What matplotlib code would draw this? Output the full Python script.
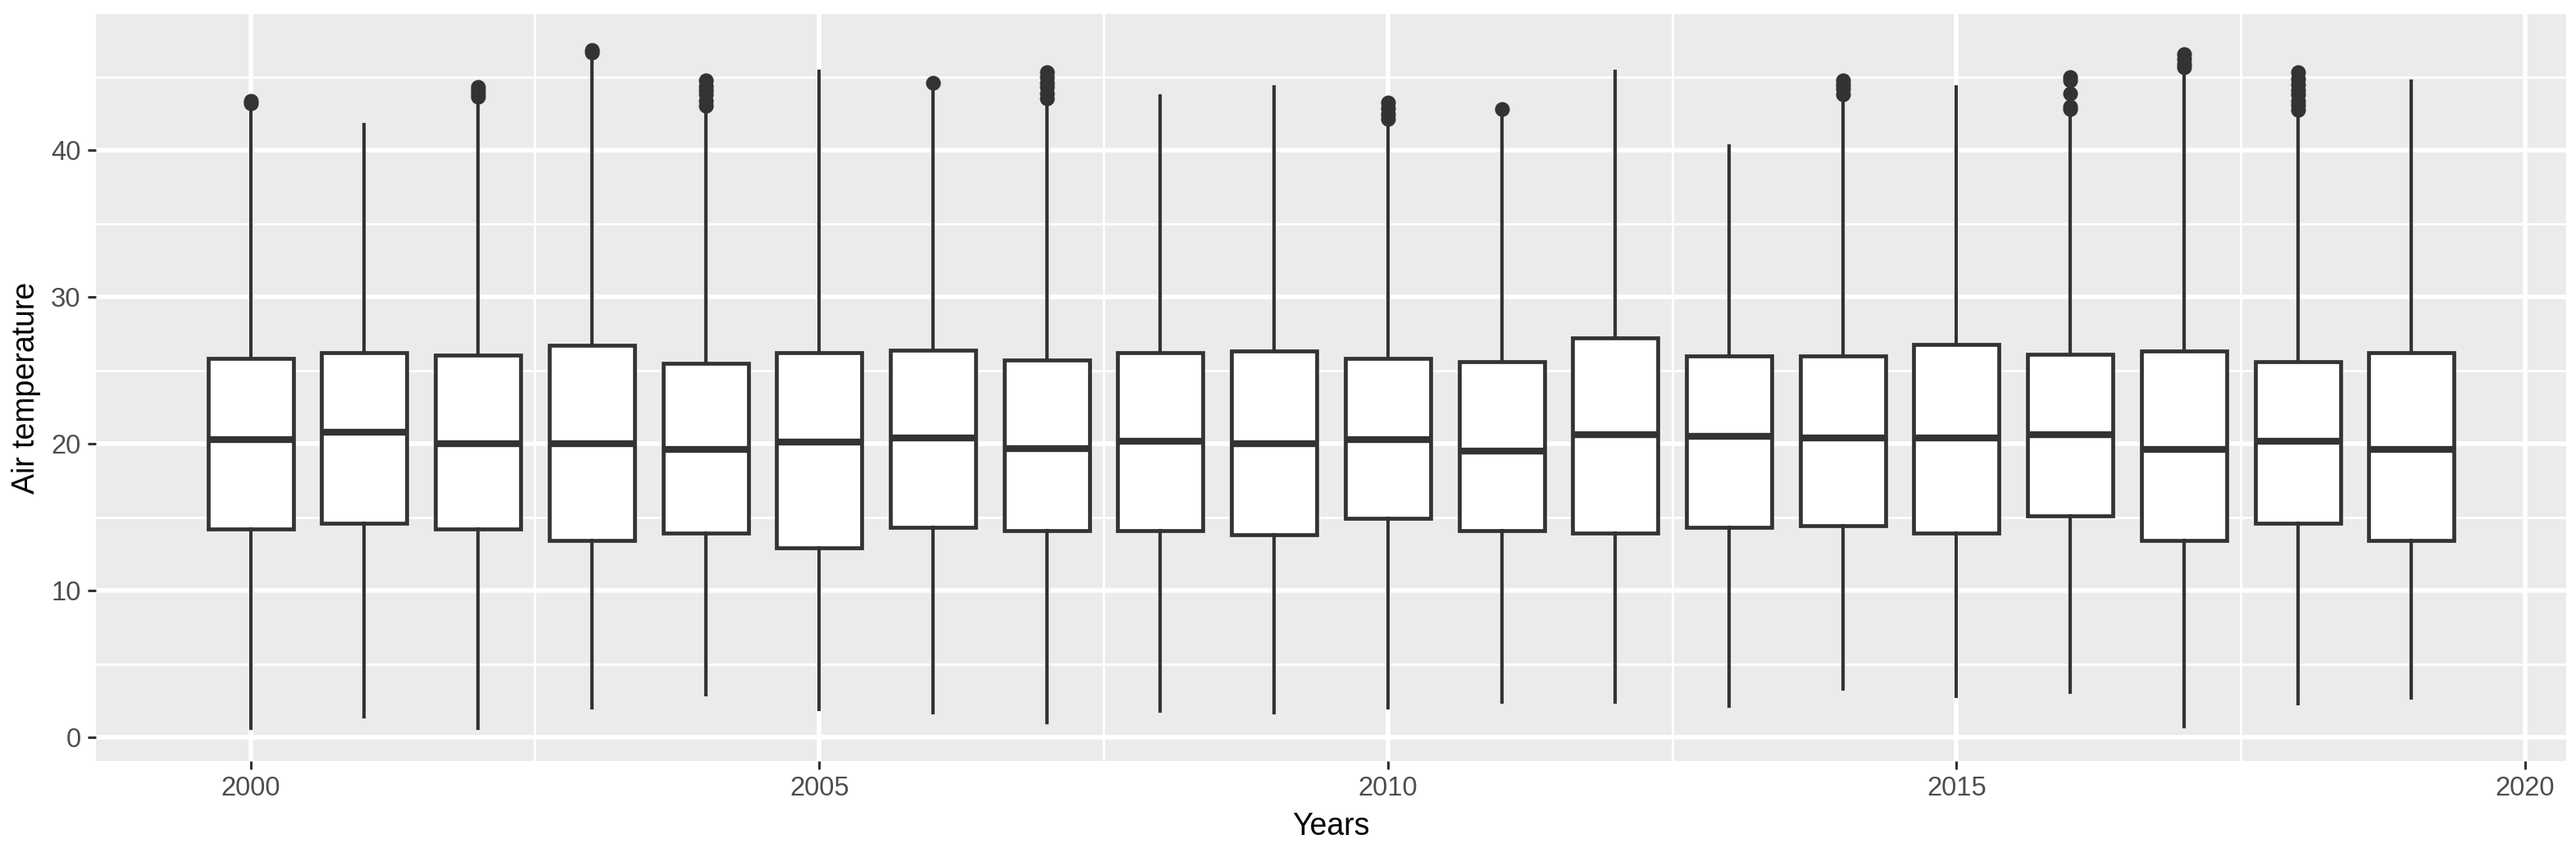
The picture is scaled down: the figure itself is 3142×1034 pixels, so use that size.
import matplotlib
matplotlib.use('Agg')
import matplotlib.pyplot as plt

# Air temperature per year
years = list(range(2000, 2020))
q1 = [14.2, 14.6, 14.2, 13.4, 13.9, 12.9, 14.3, 14.1, 14.1, 13.8,
      14.9, 14.1, 13.9, 14.3, 14.4, 13.9, 15.1, 13.4, 14.6, 13.4]
medians = [20.3, 20.8, 20.0, 20.0, 19.6, 20.1, 20.4, 19.7, 20.2, 20.0,
           20.3, 19.5, 20.6, 20.5, 20.4, 20.4, 20.6, 19.6, 20.2, 19.6]
q3 = [25.8, 26.2, 26.05, 26.7, 25.5, 26.2, 26.4, 25.7, 26.2, 26.3,
      25.8, 25.6, 27.2, 26.0, 26.0, 26.8, 26.1, 26.3, 25.6, 26.2]
whis_lo = [0.6, 1.4, 0.6, 2.0, 2.9, 1.9, 1.7, 1.0, 1.8, 1.7,
           2.0, 2.4, 2.4, 2.1, 3.3, 2.8, 3.1, 0.7, 2.3, 2.7]
whis_hi = [42.8, 41.75, 43.15, 46.2, 42.6, 45.4, 44.3, 43.1, 43.7, 44.3,
           41.7, 42.3, 45.4, 40.3, 43.4, 44.3, 42.3, 45.2, 42.3, 44.7]
outliers = [
    [43.2, 43.4],
    [],
    [43.65, 43.9, 44.1, 44.35],
    [46.65, 46.85],
    [43.05, 43.4, 43.8, 44.1, 44.4, 44.75],
    [],
    [44.6],
    [43.55, 43.9, 44.3, 44.6, 45.0, 45.35],
    [],
    [],
    [42.15, 42.5, 42.9, 43.25],
    [42.8],
    [],
    [],
    [43.85, 44.2, 44.5, 44.75],
    [],
    [42.8, 43.0, 43.9, 44.8, 45.0],
    [45.65, 45.9, 46.2, 46.55],
    [42.75, 43.1, 43.4, 43.8, 44.1, 44.5, 44.9, 45.35],
    [],
]

plt.rcParams['font.family'] = ['Liberation Sans', 'DejaVu Sans']

fig = plt.figure(figsize=(15.71, 5.17), dpi=200)
fig.set_facecolor('white')
ax = fig.add_axes([0.03724, 0.10251, 0.95894, 0.88105])
ax.set_facecolor('#EBEBEB')

# estadísticos para bxp
stats = []
for i in range(len(years)):
    stats.append(dict(q1=q1[i], med=medians[i], q3=q3[i],
                      whislo=whis_lo[i], whishi=whis_hi[i],
                      fliers=outliers[i]))

edge = '#333333'
ax.bxp(stats, positions=years, widths=0.75, patch_artist=True,
       showcaps=False, zorder=3,
       boxprops=dict(facecolor='white', edgecolor=edge, linewidth=1.7),
       whiskerprops=dict(color=edge, linewidth=1.5),
       medianprops=dict(color=edge, linewidth=3.0, solid_capstyle='butt'),
       flierprops=dict(marker='o', markerfacecolor=edge, markeredgecolor=edge,
                       markersize=5.5, linestyle='none'))

# ejes y rejilla estilo ggplot
ax.set_xlim(1998.64, 2020.36)
ax.set_ylim(-1.62, 49.3)
ax.set_xticks([2000, 2005, 2010, 2015, 2020])
ax.set_xticklabels(['2000', '2005', '2010', '2015', '2020'])
ax.set_xticks([2002.5, 2007.5, 2012.5, 2017.5], minor=True)
ax.set_yticks([0, 10, 20, 30, 40])
ax.set_yticks([5, 15, 25, 35, 45], minor=True)
ax.grid(which='major', color='white', linewidth=2.0, zorder=0)
ax.grid(which='minor', color='white', linewidth=1.0, zorder=0)
ax.set_axisbelow(True)
for s in ax.spines.values():
    s.set_visible(False)
ax.tick_params(which='major', length=3.6, width=1.1, color=edge,
               labelsize=11.8, labelcolor='#4D4D4D', pad=3)
ax.tick_params(which='minor', length=0)

ax.set_xlabel('Years', fontsize=13.5, color='black')
ax.set_ylabel('Air temperature', fontsize=13.5, color='black')
ax.xaxis.set_label_coords(0.5, -0.068)
ax.yaxis.set_label_coords(-0.0222, 0.5)

fig.savefig('out.png', dpi=200)
